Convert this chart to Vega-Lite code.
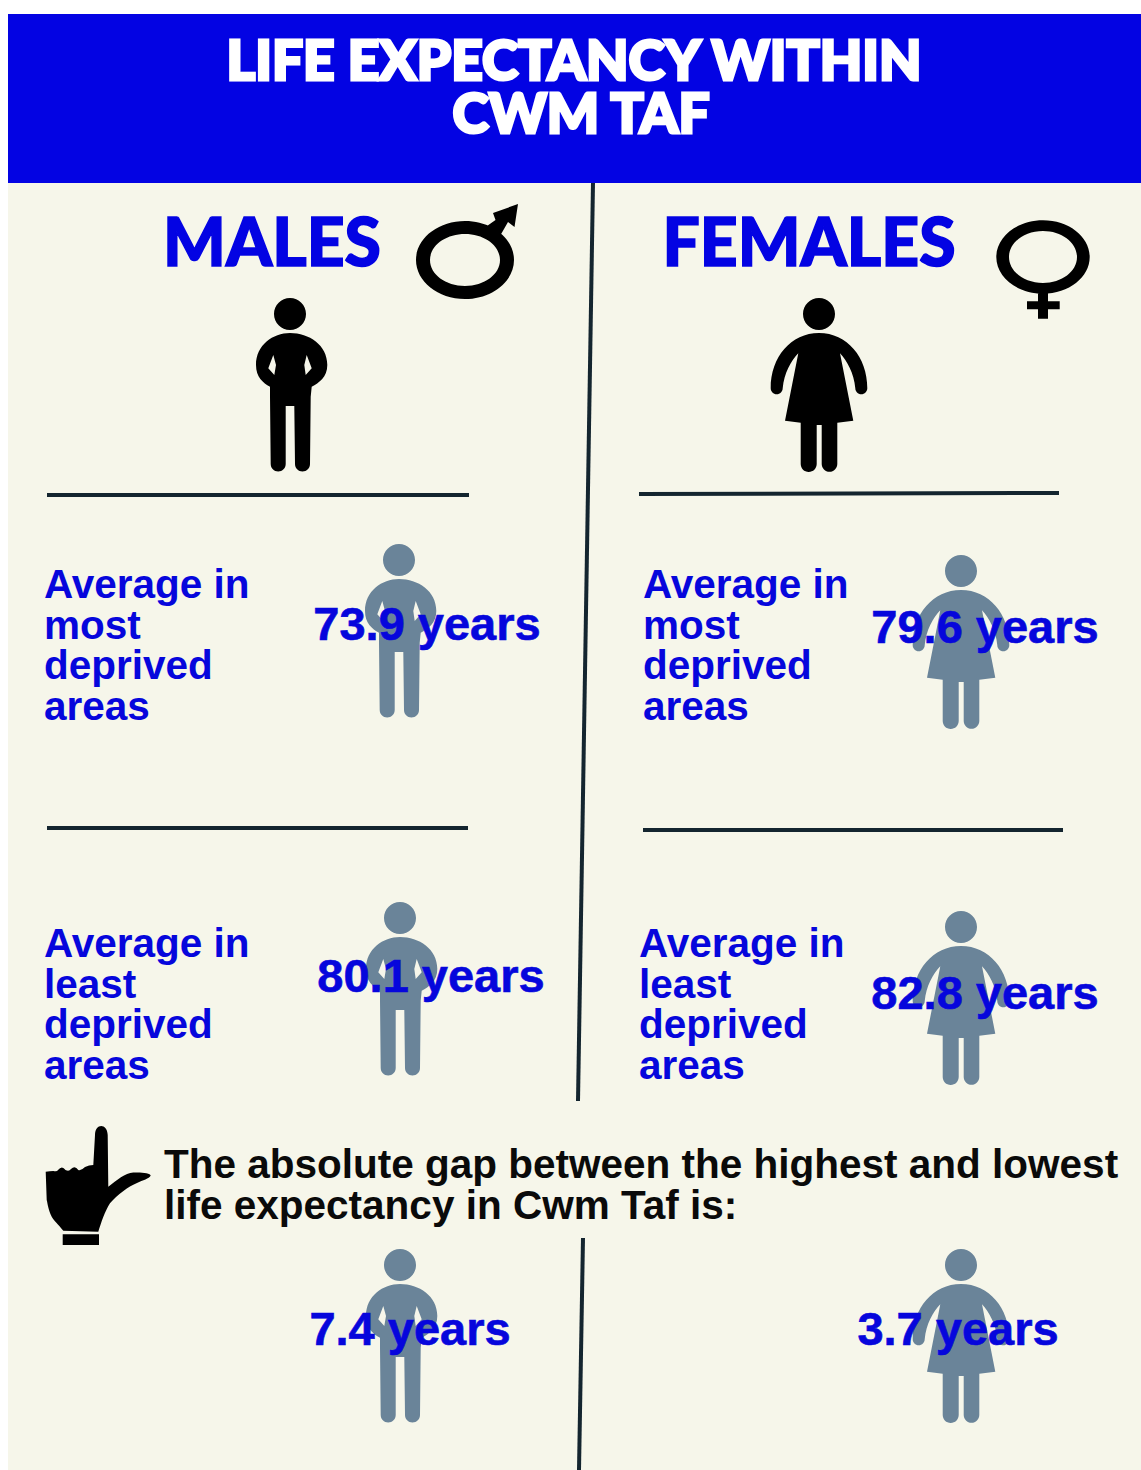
{
"$schema":"https://vega.github.io/schema/vega-lite/v6.json",
"width":1141,"height":1470,"padding":0,"background":"#ffffff",
"autosize":{"type":"none"},
"config":{"view":{"stroke":null}},
"datasets":{
"panels":[{"name":"page","x":8,"x2":1141,"y":14,"y2":1470,"kind":"page"},{"name":"header","x":8,"x2":1141,"y":14,"y2":183,"kind":"header"}],
"rules":[{"x":593,"x2":578,"y":183,"y2":1101},{"x":583,"x2":579,"y":1238,"y2":1470},{"x":47,"x2":469,"y":495,"y2":495},{"x":639,"x2":1059,"y":494,"y2":493},{"x":47,"x2":468,"y":828,"y2":828},{"x":643,"x2":1063,"y":830,"y2":830}],
"male":[{"x":291,"y":385,"tone":"black"},{"x":400,"y":631,"tone":"grey"},{"x":401,"y":989,"tone":"grey"},{"x":401,"y":1336,"tone":"grey"}],
"female":[{"x":819,"y":385,"tone":"black"},{"x":961,"y":642,"tone":"grey"},{"x":961,"y":998,"tone":"grey"},{"x":961,"y":1336,"tone":"grey"}],
"title":[{"label":"LIFE EXPECTANCY WITHIN","x":574,"y":80},{"label":"CWM TAF","x":581,"y":133}],
"heads":[{"label":"MALES","x":272,"y":266},{"label":"FEMALES","x":809,"y":266}],
"body":[{"label":"Average in\nmost\ndeprived\nareas","x":44,"y":598},{"label":"Average in\nmost\ndeprived\nareas","x":643,"y":598},{"label":"Average in\nleast\ndeprived\nareas","x":44,"y":957},{"label":"Average in\nleast\ndeprived\nareas","x":639,"y":957}],
"vals":[{"label":"73.9 years","x":427,"y":640},{"label":"79.6 years","x":985,"y":643},{"label":"80.1 years","x":431,"y":992},{"label":"82.8 years","x":985,"y":1009},{"label":"7.4 years","x":410,"y":1345},{"label":"3.7 years","x":958,"y":1345}],
"gap":[{"label":"The absolute gap between the highest and lowest\nlife expectancy in Cwm Taf is:","x":164,"y":1178}]
},
"encoding":{
"x":{"field":"x","type":"quantitative","axis":null,"scale":{"domain":[0,1141],"nice":false,"zero":false}},
"y":{"field":"y","type":"quantitative","axis":null,"scale":{"domain":[1470,0],"nice":false,"zero":false}}
},
"layer":[
{"data":{"name":"panels"},"mark":{"type":"rect"},"encoding":{"x2":{"field":"x2"},"y2":{"field":"y2"},"color":{"field":"kind","type":"nominal","legend":null,"scale":{"domain":["page","header","black","grey"],"range":["#f6f6ea","#0303e3","#000000","#6a8499"]}}}},
{"data":{"name":"rules"},"mark":{"type":"rule","strokeWidth":4,"color":"#14252f"},"encoding":{"x2":{"field":"x2"},"y2":{"field":"y2"}}},
{"data":{"name":"male"},"mark":{"type":"point","filled":true,"opacity":1,"size":4,"shape":"M -17 -71 A 16 16 0 1 1 15 -71 A 16 16 0 1 1 -17 -71 Z M -1 -52 C 18 -52 36.3 -40 36.3 -20 C 36.3 -8 28 -2 20.7 1.7 L 19.7 11.7 L 19 79 A 7.5 7.5 0 0 1 4 79 L 3.3 21 L -5.3 21 L -5.3 79 A 7.5 7.5 0 0 1 -20.3 79 L -21 11.7 L -21 1.7 C -28 -2 -35 -8 -35 -20 C -35 -40 -18 -52 -1 -52 Z M -17.7 -30 L -22.7 -16.7 L -16.7 -10 L -15 -20 Z M 15.7 -30 L 13.3 -20 L 14.7 -10 L 20.7 -16.7 Z"},"encoding":{"color":{"field":"tone","type":"nominal","legend":null}}},
{"data":{"name":"female"},"mark":{"type":"point","filled":true,"opacity":1,"size":4,"shape":"M -16 -71 A 16 16 0 1 1 16 -71 A 16 16 0 1 1 -16 -71 Z M 0 -52 C 28 -52 48.3 -28 48.3 3.3 A 6 6 0 0 1 36.3 3.3 C 35 -12 28 -24 21 -31.7 L 34.3 35.7 L 18.3 37.7 L 18.3 79 A 7.8 7.8 0 0 1 2.7 79 L 2.7 40 L -2.3 40 L -2.3 79 A 8 8 0 0 1 -18.3 79 L -18.3 37.7 L -34 35.7 L -20.7 -31.7 C -28 -24 -35 -12 -36.3 3.3 A 6 6 0 0 1 -48.3 3.3 C -48.3 -28 -28 -52 0 -52 Z"},"encoding":{"color":{"field":"tone","type":"nominal","legend":null}}},
{"data":{"values":[{"x":465,"y":260}]},"mark":{"type":"point","filled":true,"opacity":1,"size":4,"color":"#000000","shape":"M -49 0 C -49 -21.5 -27 -39 0 -39 C 27 -39 49 -21.5 49 0 C 49 21.5 27 39 0 39 C -27 39 -49 21.5 -49 0 Z M -35 0 C -35 14.4 -19.3 26 0 26 C 19.3 26 35 14.4 35 0 C 35 -14.4 19.3 -26 0 -26 C -19.3 -26 -35 -14.4 -35 0 Z M 53 -56 L 49.5 -33 L 43 -38 L 35 -24 L 22 -34 L 30.5 -40 L 28 -47 Z"}},
{"data":{"values":[{"x":1043,"y":257}]},"mark":{"type":"point","filled":true,"opacity":1,"size":4,"color":"#000000","shape":"M -46.7 0 C -46.7 -20.3 -25.8 -36.7 0 -36.7 C 25.8 -36.7 46.7 -20.3 46.7 0 C 46.7 20.3 25.8 36.7 0 36.7 C -25.8 36.7 -46.7 20.3 -46.7 0 Z M -34 0 C -34 14.4 -18.8 26 0 26 C 18.8 26 34 14.4 34 0 C 34 -14.4 18.8 -26 0 -26 C -18.8 -26 -34 -14.4 -34 0 Z M -5 34 L 5 34 L 5 44.3 L 16.7 44.3 L 16.7 52.3 L 5 52.3 L 5 61.7 L -5 61.7 L -5 52.3 L -16 52.3 L -16 44.3 L -5 44.3 Z"}},
{"data":{"values":[{"x":95,"y":1185}]},"mark":{"type":"point","filled":true,"opacity":1,"size":4,"color":"#000000","shape":"M 0 -50 C 0 -62 12.3 -62 12.7 -50 L 13.3 1.7 C 22 -5 30 -12 38.3 -12.5 C 46 -13 55.7 -12 55.7 -9.5 C 54 -6 48 -5 42 -2 C 34 1 22 10 15 18.3 C 10 26 6 38 3.3 46.7 L -31.7 45.7 C -37 39 -41 36 -43.3 31.7 C -47 24 -47 20 -48.3 15 L -49.3 -13.3 Q -45 -14 -41.7 -14 Q -38 -13 -37 -15 Q -33 -20 -29.5 -15 Q -26 -13 -24 -16 Q -20 -20 -16.7 -15 Q -14 -14 -10 -18 Q -6 -20 -1.7 -20 Z M -32.3 49.3 L 4 49.3 L 4 60 L -32.3 60 Z"}},
{"data":{"name":"title"},"mark":{"type":"text","font":"Lato","fontWeight":900,"fontSize":55,"align":"center","baseline":"alphabetic","color":"#ffffff","stroke":"#ffffff","strokeWidth":3},"encoding":{"text":{"field":"label"}}},
{"data":{"name":"heads"},"mark":{"type":"text","font":"Lato","fontWeight":900,"fontSize":66,"align":"center","baseline":"alphabetic","color":"#0303e3","stroke":"#0303e3","strokeWidth":1.5},"encoding":{"text":{"field":"label"}}},
{"data":{"name":"body"},"mark":{"type":"text","font":"Liberation Sans","fontWeight":"bold","fontSize":40.5,"align":"left","baseline":"alphabetic","lineBreak":"\n","lineHeight":40.7,"color":"#0606dc"},"encoding":{"text":{"field":"label"}}},
{"data":{"name":"vals"},"mark":{"type":"text","font":"Liberation Sans","fontWeight":"bold","fontSize":47,"align":"center","baseline":"alphabetic","color":"#0606dc","stroke":"#0606dc","strokeWidth":0.6},"encoding":{"text":{"field":"label"}}},
{"data":{"name":"gap"},"mark":{"type":"text","font":"Liberation Sans","fontWeight":"bold","fontSize":40.5,"align":"left","baseline":"alphabetic","lineBreak":"\n","lineHeight":41,"color":"#0a0a0a"},"encoding":{"text":{"field":"label"}}}
]
}
